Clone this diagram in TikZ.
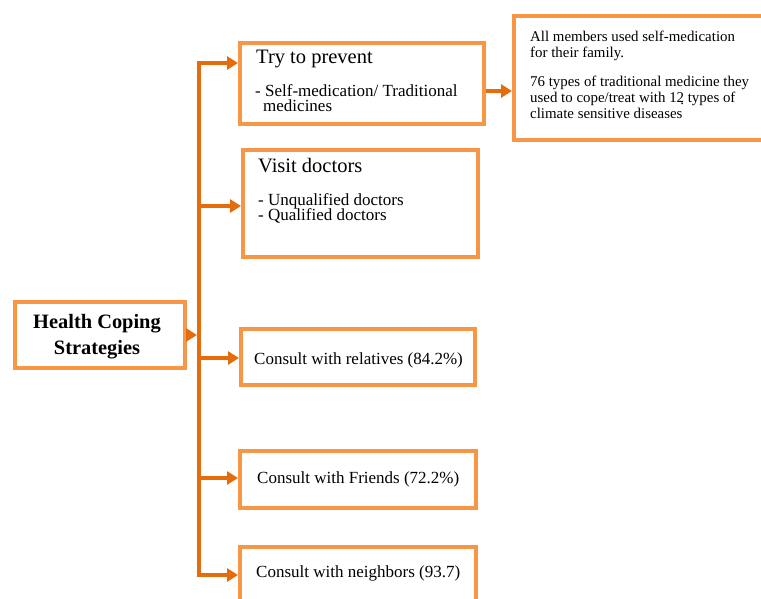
\documentclass[tikz,border=0pt]{standalone}
\usepackage{fontspec}
\setmainfont{Liberation Serif}
\usetikzlibrary{arrows.meta}
\definecolor{boxorange}{HTML}{F79646}
\definecolor{arrorange}{HTML}{E46C0A}
\newcommand{\mlines}[2]{\vtop{\baselineskip=#1\lineskiplimit=-1000pt\lineskip=0pt\relax\halign{##\hfil\cr #2\crcr}}}
\newcommand{\clines}[2]{\vtop{\baselineskip=#1\lineskiplimit=-1000pt\lineskip=0pt\relax\halign{\hfil##\hfil\cr #2\crcr}}}
\begin{document}
\begin{tikzpicture}[x=1pt,y=-1pt,
  box/.style={draw=boxorange, line width=4pt, fill=white, inner sep=0pt, anchor=north west},
  arr/.style={draw=arrorange, line width=4pt, -{Triangle[length=11pt,width=13pt]}},
  trunkline/.style={draw=arrorange, line width=4pt, line cap=rect},
  big/.style={anchor=base west, inner sep=0pt, font=\fontsize{20.5}{20.5}\selectfont},
  txt/.style={anchor=base west, inner sep=0pt, font=\fontsize{17}{17}\selectfont},
  small/.style={anchor=base west, inner sep=0pt, font=\fontsize{14.9}{14.9}\selectfont},
  head/.style={anchor=base, inner sep=0pt, font=\fontsize{20.4}{20.4}\selectfont\bfseries}
]
\clip (0,0) rectangle (761,598);
\fill[white] (0,0) rectangle (761,598);

% boxes
\node[box, minimum width=170, minimum height=66] (b0) at (13,300) {};
\node[box, minimum width=244, minimum height=81] (b1) at (238,41) {};
\node[box, minimum width=235, minimum height=107] (b2) at (241,148) {};
\node[box, minimum width=290, minimum height=124] (b3) at (512,14) {};
\node[box, minimum width=234, minimum height=56] (b4) at (239,327) {};
\node[box, minimum width=236, minimum height=57] (b5) at (238,449) {};
\node[box, minimum width=236, minimum height=80] (b6) at (238,545) {};

% trunk
\coordinate (tt) at (199,63);
\coordinate (j2) at (199,206);
\coordinate (j4) at (199,358);
\coordinate (j5) at (199,478);
\coordinate (tb) at (199,575);
\draw[trunkline] (tt) -- (tb);

\draw[arr] (tt) -- (tt -| b1.west);
\draw[arr] (j2) -- (j2 -| b2.west);
\draw[arr] (j4) -- (j4 -| b4.west);
\draw[arr] (j5) -- (j5 -| b5.west);
\draw[arr] (tb) -- (tb -| b6.west);
\draw[arr, shorten >=2pt] (b0.east) -- (b0.east -| tt);
\coordinate (r1) at ([yshift=-7.5pt]b1.east);
\draw[arr] (r1) -- (r1 -| b3.west);

% texts
\node[head] (h1) at (97,328) {\clines{26pt}{Health Coping\cr Strategies}};

\node[big] (t1) at (256,63) {Try to prevent};
\node[txt] (t1a) at (255,96) {\mlines{15pt}{- Self-medication/ Traditional\cr \hspace*{8pt}medicines}};

\node[big] (t2) at (258,172) {Visit doctors};
\node[txt] (t2a) at (258,205) {\mlines{15pt}{- Unqualified doctors\cr - Qualified doctors}};

\node[small] (t3a) at (530,41) {\mlines{16pt}{All members used self-medication\cr for their family.}};
\node[small] (t3c) at (530,86) {\mlines{16pt}{76 types of traditional medicine they\cr used to cope/treat with 12\kern-0.25em\raisebox{-0.3ex}[0pt][0pt]{.}\kern0.25em types of\cr climate sensitive diseases}};

\node[txt] (t4) at (254,364) {Consult with relatives (84.2\%)};
\node[txt] (t5) at (257,483) {Consult with Friends (72.2\%)};
\node[txt] (t6) at (256,577) {Consult with neighbors (93.7)};
\end{tikzpicture}
\end{document}
